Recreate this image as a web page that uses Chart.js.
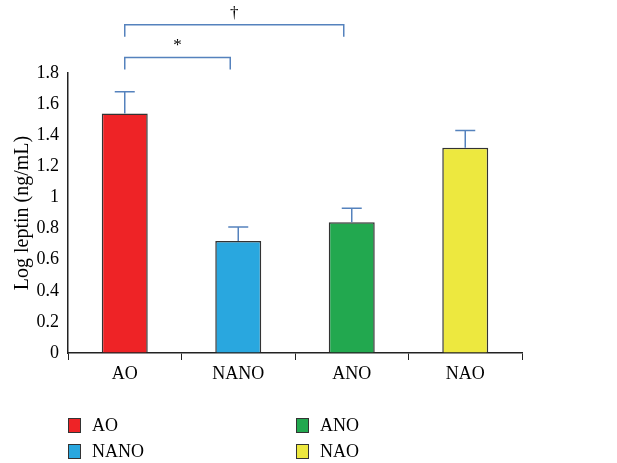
<!DOCTYPE html>
<html>
<head>
<meta charset="utf-8">
<script src="https://cdn.jsdelivr.net/npm/chart.js@4/dist/chart.umd.min.js"></script>
<style>
    body { margin: 0; background: #fff; }
    #wrap { position: relative; width: 617px; height: 463px; }
    .legend-item {
        position: absolute;
        font-family: "Liberation Serif", "DejaVu Serif", serif;
        font-size: 18px;
        color: #000;
        display: flex;
        align-items: center;
    }
    .legend-item span.box {
        display: inline-block;
        width: 11px;
        height: 13px;
        border: 1.5px solid #333;
        margin-right: 11px;
    }
</style>
</head>
<body>
<div id="wrap">
    <canvas id="leptinChart" width="617" height="463"></canvas>
    <div id="legend"></div>
</div>
<script>
// Datos del gráfico
const categories = ['AO', 'NANO', 'ANO', 'NAO'];
const leptinValues = [1.54, 0.72, 0.84, 1.32];
const errorUpper = [1.68, 0.81, 0.93, 1.43];
const barColors = ['#ee2326', '#29a7df', '#22a84f', '#ede83f'];
const yTicks = [0, 0.2, 0.4, 0.6, 0.8, 1, 1.2, 1.4, 1.6, 1.8];

// Corchetes de significancia: [desde, hasta, nivel, símbolo]
const brackets = [
    { from: 0, to: 1, level: 1.9, label: '*' },
    { from: 0, to: 2, level: 2.11, label: '†' }
];

const serif = '"Liberation Serif", "DejaVu Serif", serif';

/**
 * Dibuja barras de error (solo superior) y corchetes
 */
const annotations = {
    id: 'annotations',
    afterDatasetsDraw(chart) {
        const ctx = chart.ctx;
        const x = chart.scales.x;
        const y = chart.scales.y;
        ctx.save();
        ctx.strokeStyle = '#5582bd';
        ctx.lineWidth = 1.5;

        // Barras de error
        errorUpper.forEach((val, i) => {
            const cx = x.getPixelForValue(i);
            const top = y.getPixelForValue(val);
            const base = y.getPixelForValue(leptinValues[i]);
            ctx.beginPath();
            ctx.moveTo(cx, base);
            ctx.lineTo(cx, top);
            ctx.moveTo(cx - 10, top);
            ctx.lineTo(cx + 10, top);
            ctx.stroke();
        });

        // Corchetes
        ctx.fillStyle = '#000';
        ctx.font = '17px ' + serif;
        ctx.textAlign = 'center';
        ctx.textBaseline = 'bottom';
        brackets.forEach(b => {
            const x1 = x.getPixelForValue(b.from);
            const x2 = x.getPixelForValue(b.to) - 8;
            const yl = y.getPixelForValue(b.level);
            const drop = 12;
            ctx.beginPath();
            ctx.moveTo(x1, yl + drop);
            ctx.lineTo(x1, yl);
            ctx.lineTo(x2, yl);
            ctx.lineTo(x2, yl + drop);
            ctx.stroke();
            ctx.fillText(b.label, (x1 + x2) / 2, yl - 3);
        });
        ctx.restore();
    }
};

new Chart(document.getElementById('leptinChart'), {
    type: 'bar',
    data: {
        labels: categories,
        datasets: [{
            data: leptinValues,
            backgroundColor: barColors,
            borderColor: '#333',
            borderWidth: 1.5,
            categoryPercentage: 1,
            barPercentage: 0.405
        }]
    },
    options: {
        responsive: false,
        animation: false,
        layout: {
            padding: { top: 73, right: 95, bottom: 70, left: 0 }
        },
        plugins: {
            legend: { display: false },
            tooltip: { enabled: false }
        },
        scales: {
            x: {
                afterFit: scale => { scale.height = 40; },
                grid: {
                    offset: true,
                    drawOnChartArea: false,
                    drawTicks: true,
                    tickLength: 7,
                    color: '#222'
                },
                border: { display: true, color: '#222', width: 1.5 },
                ticks: {
                    color: '#000',
                    padding: 3,
                    font: { family: serif, size: 18 }
                }
            },
            y: {
                min: 0,
                max: 1.8,
                afterFit: scale => { scale.width = 68; },
                afterBuildTicks: scale => {
                    scale.ticks = yTicks.map(v => ({ value: v }));
                },
                grid: { drawOnChartArea: false, drawTicks: false },
                border: { display: true, color: '#222', width: 1.5 },
                ticks: {
                    color: '#000',
                    padding: 9,
                    font: { family: serif, size: 18 },
                    callback: v => String(Math.round(v * 10) / 10)
                },
                title: {
                    display: true,
                    text: 'Log leptin (ng/mL)',
                    color: '#000',
                    padding: { top: 11, bottom: 0 },
                    font: { family: serif, size: 20 }
                }
            }
        }
    },
    plugins: [annotations]
});

// Leyenda en dos columnas
const legendPos = [[68, 415], [68, 441], [296, 415], [296, 441]];
const legendEl = document.getElementById('legend');
categories.forEach((name, i) => {
    const item = document.createElement('div');
    item.className = 'legend-item';
    item.style.left = legendPos[i][0] + 'px';
    item.style.top = legendPos[i][1] + 'px';
    item.innerHTML = `<span class="box" style="background:${barColors[i]}"></span>${name}`;
    legendEl.appendChild(item);
});
</script>
</body>
</html>
